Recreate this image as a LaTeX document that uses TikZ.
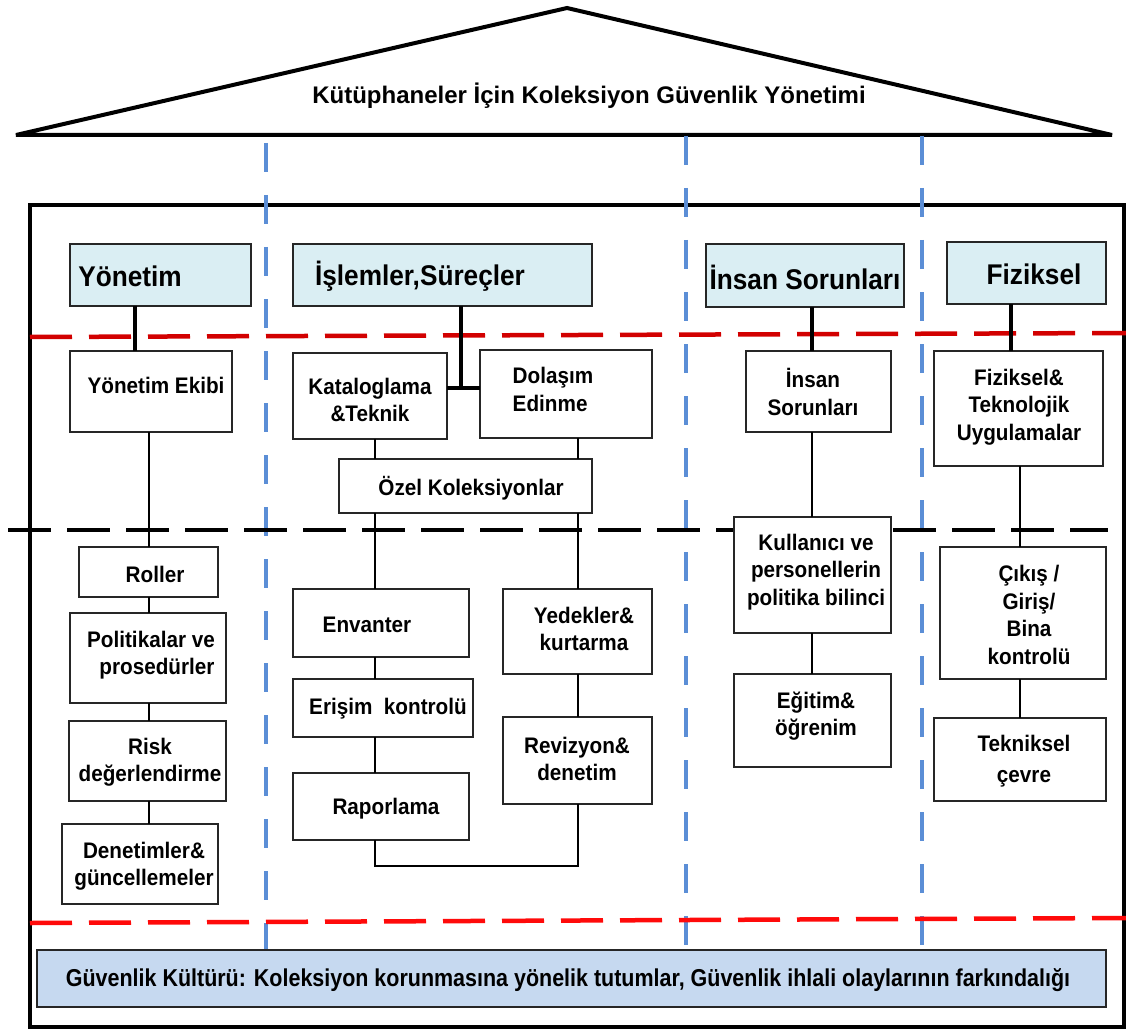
\documentclass[tikz,border=0pt]{standalone}
\usepackage{fontspec}
\setmainfont{Liberation Sans}
\newfontfamily\cf{Liberation Sans}[FakeStretch=0.92]
\newfontfamily\gf{Liberation Sans}[FakeStretch=0.88]
\usetikzlibrary{calc}
\definecolor{hdr}{HTML}{DAEEF3}
\definecolor{gfill}{HTML}{C6D9F0}
\definecolor{boxc}{HTML}{262626}
\definecolor{bluedash}{HTML}{5B8ED6}
\definecolor{reddark}{HTML}{D20000}
\definecolor{redbright}{HTML}{FF0A0A}
\newcommand\hf{\fontsize{28.5}{32}\selectfont}
\newcommand\bx[9]{%
  \node[#1, minimum width={(#5-#3)*1pt}, minimum height={(#6-#4)*1pt}] (#2) at ({(#3+#5)/2},{(#4+#6)/2}) {};
  \node[txt] (#2-t) at (#7,#8) {#9};}
\tikzset{
  box/.style={draw=boxc, line width=2pt, fill=white, inner sep=0pt, outer sep=0pt},
  hbox/.style={box, fill=hdr},
  gbox/.style={box, fill=gfill, line width=2.5pt},
  txt/.style={inner sep=0pt, align=center, font=\cf\bfseries\fontsize{22.5}{27.5}\selectfont},
  conn/.style={draw=black, line width=1.6pt},
  hconn/.style={draw=black, line width=3.5pt},
  bdash/.style={draw=bluedash, line width=4pt, dash pattern=on 29pt off 23pt},
  rdash/.style={line width=4.5pt, dash pattern=on 42pt off 17pt},
  kdash/.style={draw=black, line width=4.5pt, dash pattern=on 43pt off 16pt},
}
\begin{document}
\begin{tikzpicture}[x=1pt, y=-1pt]
\useasboundingbox (0,0) rectangle (1126,1032);
% roof
\draw[line width=4pt, line join=miter, miter limit=4] (16,135) -- (567,8) -- (1112,135) -- cycle;
\node[font=\bfseries\fontsize{24}{28}\selectfont, anchor=base, inner sep=0pt] (title) at (589,104) {Kütüphaneler İçin Koleksiyon Güvenlik Yönetimi};
% frame
\draw[line width=3.5pt] (30,205) rectangle (1124,1027);
% dashed guide lines
\draw[bdash] (266,143) -- (266,950);
\draw[bdash] (686,136) -- (686,950);
\draw[bdash] (922,136) -- (922,950);
\draw[rdash, draw=reddark] (30,337) -- (1126,333);
\draw[kdash] (8,530) -- (1108,530);
\draw[rdash, draw=redbright] (30,923) -- (1126,918);
% coordinates for connectors
\coordinate (xa) at (135,0);
\coordinate (xb) at (149,0);
\coordinate (xc) at (461,0);
\coordinate (xd) at (375,0);
\coordinate (xe) at (578,0);
\coordinate (xf) at (812,0);
\coordinate (xg) at (1011,0);
\coordinate (xh) at (1020,0);
\coordinate (c1) at (461,388);
\coordinate (c2) at (375,866);
\coordinate (c3) at (578,866);
% boxes
\bx{hbox}{yh}{70}{244}{251}{306}{130}{276}{\hf Yönetim}
\bx{hbox}{ih}{293}{244}{592}{306}{420}{276}{\hf İşlemler,Süreçler}
\bx{hbox}{sh}{706}{244}{904}{307}{805}{277}{\hf İnsan Sorunları}
\bx{hbox}{fh}{947}{242}{1106}{304}{1034}{274}{\hf Fiziksel}
\bx{box}{ekibi}{70}{351}{232}{432}{156}{385}{Yönetim Ekibi}
\bx{box}{katalog}{293}{353}{447}{439}{370}{400}{Kataloglama\\\&Teknik}
\bx{box}{dolasim}{480}{350}{652}{438}{553}{392}{\begin{tabular}{@{}l@{}}Dolaşım\\Edinme\end{tabular}}
\bx{box}{ozel}{339}{459}{592}{513}{471}{488}{Özel Koleksiyonlar}
\bx{box}{insan}{746}{351}{891}{432}{813}{392}{İnsan\\Sorunları}
\bx{box}{fiz}{934}{351}{1103}{466}{1019}{407}{Fiziksel\&\\Teknolojik\\Uygulamalar}
\bx{box}{roller}{79}{547}{218}{597}{155}{574}{Roller}
\bx{box}{politika}{70}{613}{226}{703}{151}{655}{Politikalar ve\\\hspace*{12pt}prosedürler}
\bx{box}{risk}{69}{721}{226}{801}{150}{762}{Risk\\değerlendirme}
\bx{box}{denetim}{62}{824}{218}{904}{144}{866}{Denetimler\&\\güncellemeler}
\bx{box}{envanter}{293}{589}{469}{657}{367}{625}{Envanter}
\bx{box}{erisim}{293}{679}{473}{737}{388}{709}{Erişim\ \ kontrolü}
\bx{box}{rapor}{293}{773}{469}{840}{386}{809}{Raporlama}
\bx{box}{yedek}{503}{589}{652}{674}{584}{629}{Yedekler\&\\kurtarma}
\bx{box}{reviz}{503}{717}{652}{804}{577}{759}{Revizyon\&\\denetim}
\bx{box}{kullanici}{734}{517}{891}{633}{816}{572}{Kullanıcı ve\\personellerin\\politika bilinci}
\bx{box}{egitim}{734}{674}{891}{767}{816}{716}{Eğitim\&\\öğrenim}
\bx{box}{cikis}{940}{547}{1106}{679}{1029}{615}{Çıkış /\\Giriş/\\Bina\\kontrolü}
\bx{box}{teknik}{934}{718}{1106}{801}{1024}{761}{Tekniksel\\[4pt]çevre}
\bx{gbox}{guv}{37}{950}{1106}{1007}{568}{980}{\gf\fontsize{24.4}{28}\selectfont Güvenlik Kültürü: Koleksiyon korunmasına yönelik tutumlar, Güvenlik ihlali olaylarının farkındalığı}
% connectors
\draw[hconn] (yh.south -| xa) -- (ekibi.north -| xa);
\draw[hconn] (ih.south -| xc) -- (c1);
\draw[hconn] (katalog.east |- c1) -- (dolasim.west |- c1);
\draw[hconn] (sh.south -| xf) -- (insan.north -| xf);
\draw[hconn] (fh.south -| xg) -- (fiz.north -| xg);
\draw[conn] (ekibi.south -| xb) -- (roller.north -| xb);
\draw[conn] (roller.south -| xb) -- (politika.north -| xb);
\draw[conn] (politika.south -| xb) -- (risk.north -| xb);
\draw[conn] (risk.south -| xb) -- (denetim.north -| xb);
\draw[conn] (katalog.south -| xd) -- (ozel.north -| xd);
\draw[conn] (dolasim.south -| xe) -- (ozel.north -| xe);
\draw[conn] (ozel.south -| xd) -- (envanter.north -| xd);
\draw[conn] (ozel.south -| xe) -- (yedek.north -| xe);
\draw[conn] (envanter.south -| xd) -- (erisim.north -| xd);
\draw[conn] (erisim.south -| xd) -- (rapor.north -| xd);
\draw[conn] (yedek.south -| xe) -- (reviz.north -| xe);
\draw[conn] (rapor.south -| xd) -- (c2) -- (c3) -- (reviz.south -| xe);
\draw[conn] (insan.south -| xf) -- (kullanici.north -| xf);
\draw[conn] (kullanici.south -| xf) -- (egitim.north -| xf);
\draw[conn] (fiz.south -| xh) -- (cikis.north -| xh);
\draw[conn] (cikis.south -| xh) -- (teknik.north -| xh);
\end{tikzpicture}
\end{document}
